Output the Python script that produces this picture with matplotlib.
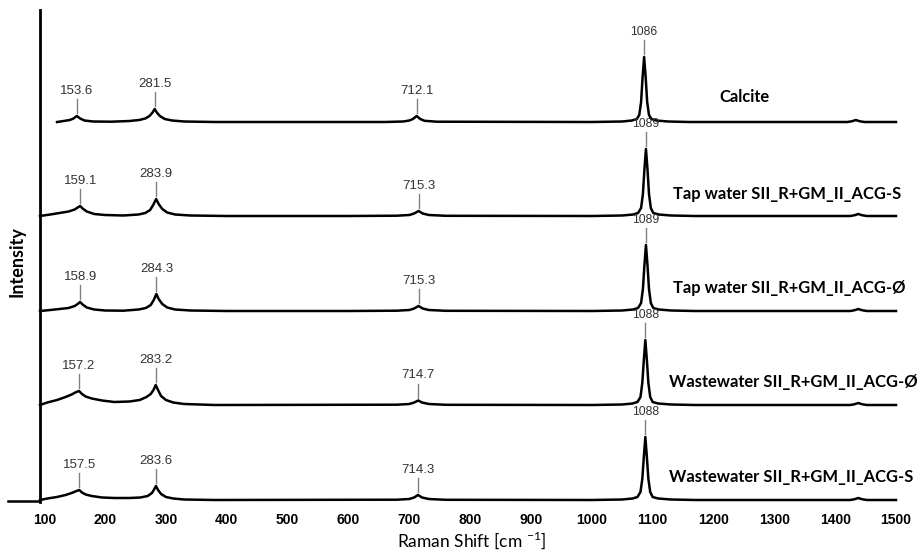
import numpy as np
from matplotlib import pyplot as plt

# Raman shift axis ticks
x_ticks = [100, 200, 300, 400, 500, 600, 700, 800, 900, 1000, 1100, 1200, 1300, 1400, 1500]

# Spectra (intensity in arbitrary units above each baseline)
x_cal = [121, 132, 142, 148, 153.6, 159, 166, 180, 210, 240, 256, 266, 273, 278, 281.5, 285, 290, 298, 310, 330,
         380, 660, 690, 700, 706, 712.1, 718, 725, 745, 1000, 1050, 1066, 1074, 1078, 1081, 1083.5, 1086, 1088.5,
         1091, 1094, 1098, 1106, 1125, 1160, 1420, 1428, 1434, 1440, 1448, 1500]
y_cal = [0, 1, 2, 3.5, 6, 3.5, 1.5, 0.5, 0.3, 1, 2, 3.5, 6, 9.5, 13, 9.5, 6, 3, 1.5, 0.5,
         0, 0, 0.5, 1.5, 3, 6, 3, 1.2, 0.3, 0, 0.5, 1.5, 3, 7, 20, 45, 65, 45,
         20, 7, 3, 1.5, 0.5, 0, 0, 0.8, 2, 0.8, 0, 0]

x_ts = [93, 110, 125, 140, 150, 155, 159.1, 163, 170, 182, 200, 230, 255, 266, 274, 279, 283.9, 288, 294, 302,
        315, 340, 400, 600, 680, 700, 708, 715.3, 722, 732, 760, 1000, 1050, 1068, 1076, 1081, 1084, 1086.5,
        1089, 1091.5, 1094, 1097, 1101, 1110, 1130, 1170, 1425, 1432, 1438, 1444, 1452, 1500]
y_ts = [0, 1.5, 3, 4.5, 6.5, 8.5, 10, 7.5, 4.5, 2, 1, 0.5, 1.5, 3, 6, 11, 17, 12, 7, 3.5,
        1.5, 0.5, 0, 0, 0.3, 1, 2.5, 5, 2.5, 1, 0.2, 0, 0.5, 1.5, 3, 8, 22, 47,
        67, 47, 22, 8, 3, 1.5, 0.5, 0, 0, 0.8, 2, 0.8, 0, 0]

x_to = [93, 110, 125, 140, 150, 155, 158.9, 163, 170, 182, 200, 230, 255, 267, 275, 280, 284.3, 288, 294, 302,
        315, 340, 400, 600, 680, 700, 708, 715.3, 722, 732, 760, 1000, 1050, 1068, 1076, 1081, 1084, 1086.5,
        1089, 1091.5, 1094, 1097, 1101, 1110, 1130, 1170, 1425, 1432, 1438, 1444, 1452, 1500]
y_to = [0, 1, 2, 3, 5, 7, 9, 6.5, 3.5, 1.5, 0.5, 0.3, 1.5, 3, 6, 11, 17, 12, 7, 3.5,
        1.5, 0.5, 0, 0, 0.3, 1, 2.5, 5, 2.5, 1, 0.2, 0, 0.5, 1.5, 3, 8, 22, 46,
        66, 46, 22, 8, 3, 1.5, 0.5, 0, 0, 0.8, 2, 0.8, 0, 0]

x_wo = [93, 105, 121, 135, 145, 151, 157.2, 162, 168, 178, 195, 215, 240, 257, 268, 275, 279.5, 283.2, 287, 292,
        300, 312, 330, 380, 680, 700, 708, 714.7, 721, 732, 760, 1000, 1050, 1067, 1075, 1080, 1083, 1085.5,
        1088, 1090.5, 1093, 1096, 1100, 1109, 1130, 1170, 1425, 1432, 1438, 1444, 1452, 1500]
y_wo = [0, 2.5, 5, 8, 10.5, 12.5, 14, 11, 8.5, 6.5, 4.5, 3, 3.5, 5, 8, 11, 15, 20, 15, 9,
        5, 2.5, 1, 0, 0.3, 1, 2.5, 4.5, 2.5, 1, 0.2, 0, 0.5, 1.5, 3, 8, 22, 45,
        65, 45, 22, 8, 3, 1.5, 0.5, 0, 0, 0.8, 2, 0.8, 0, 0]

x_ws = [93, 105, 121, 135, 145, 151, 157.5, 162, 168, 178, 195, 215, 240, 258, 270, 277, 280.5, 283.6, 287, 292,
        300, 312, 330, 380, 680, 700, 708, 714.3, 721, 732, 760, 1000, 1050, 1067, 1075, 1080, 1083, 1085.5,
        1088, 1090.5, 1093, 1096, 1100, 1109, 1130, 1170, 1425, 1432, 1438, 1444, 1452, 1500]
y_ws = [0, 1.5, 3, 5, 7, 8.5, 10, 7.5, 5.5, 4, 2.5, 2, 2, 2.5, 4, 7, 10.5, 14, 10, 6,
        3, 1.5, 0.5, 0, 0.3, 1, 2.5, 5, 2.5, 1, 0.2, 0, 0.5, 1.5, 3, 8, 21, 43,
        63, 43, 21, 8, 3, 1.5, 0.5, 0, 0, 0.8, 2, 0.8, 0, 0]

# Sample names, vertical offsets and annotated peak positions
names = ['Calcite', 'Tap water SII_R+GM_II_ACG-S', 'Tap water SII_R+GM_II_ACG-Ø',
         'Wastewater SII_R+GM_II_ACG-Ø', 'Wastewater SII_R+GM_II_ACG-S']
offsets = [380, 286, 191, 97, 2]
peaks = [[153.6, 281.5, 712.1, 1086],
         [159.1, 283.9, 715.3, 1089],
         [158.9, 284.3, 715.3, 1089],
         [157.2, 283.2, 714.7, 1088],
         [157.5, 283.6, 714.3, 1088]]
spectra = [(x_cal, y_cal), (x_ts, y_ts), (x_to, y_to), (x_wo, y_wo), (x_ws, y_ws)]

# name label placement (x start in cm-1, height above baseline)
name_x = [1209, 1133, 1133, 1127, 1127]
name_dy = [25, 22, 23, 23, 23]

if __name__ == "__main__":
    fig = plt.figure(figsize=(9.19, 5.51), dpi=100)
    ax = fig.add_axes([40 / 919, 49 / 551, 856 / 919, 492 / 551])
    ax.set_xlim(93, 1500)
    ax.set_ylim(0, 492)

    for (xs, ys), off, pk, name, nx, ndy in zip(spectra, offsets, peaks, names, name_x, name_dy):
        xs = np.array(xs)
        ys = np.array(ys) + off
        ax.plot(xs, ys, color='black', linewidth=1.8, clip_on=False)
        for p in pk:
            top = np.interp(p, xs, ys)
            ax.plot([p, p], [top + 3, top + 17], color='#808080', linewidth=1)
            small = p > 1000
            ax.text(p, top + 19, f'{p:g}', ha='center', va='bottom',
                    fontsize=8.8 if small else 9.5, color='#333333',
                    family='Liberation Sans')
        ax.text(nx, off + ndy, name, ha='left', va='center', fontsize=11.9,
                fontweight='bold', family='Lato', color='black')

    # axes styling
    for side in ['top', 'right', 'bottom']:
        ax.spines[side].set_visible(False)
    ax.spines['left'].set_linewidth(2)
    ax.axhline(1, xmin=-32 / 856, xmax=0, color='black', linewidth=1.8, clip_on=False)
    ax.set_yticks([])
    ax.set_xticks(x_ticks)
    ax.tick_params(axis='x', length=0, pad=8)
    for lbl in ax.get_xticklabels():
        lbl.set_fontweight('heavy')
        lbl.set_fontsize(10)
        lbl.set_family('Liberation Sans')

    ax.set_xlabel(r'Raman Shift [cm $^{\mathregular{-1}}$]', fontsize=12.5, family='Lato')
    ax.xaxis.label.set_va('center')
    ax.xaxis.set_label_coords((472 - 40) / 856, -(540 - 502) / 492)
    ax.set_ylabel('Intensity', fontsize=13, fontweight='bold', family='Lato')
    ax.yaxis.label.set_va('center')
    ax.yaxis.set_label_coords(-(40 - 17) / 856, (502 - 262) / 492)

    fig.savefig('out.png', dpi=100)
